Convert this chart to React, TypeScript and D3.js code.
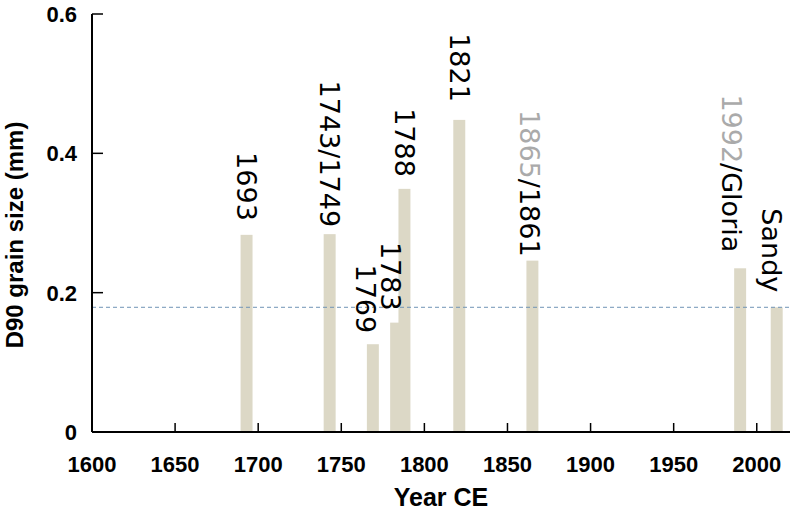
import * as React from 'react';
import * as d3 from 'd3';

// bar positions (year CE) and D90 values (mm)
const years = [1693, 1743, 1769, 1783, 1788, 1821, 1865, 1990, 2012];
const values = [0.283, 0.284, 0.126, 0.157, 0.349, 0.448, 0.246, 0.235, 0.179];
// label parts: [grey part, black part]
const labels = [
  ['', '1693'],
  ['', '1743/1749'],
  ['', '1769'],
  ['', '1783'],
  ['', '1788'],
  ['', '1821'],
  ['1865', '/1861'],
  ['1992', '/Gloria'],
  ['', 'Sandy'],
];
// small shift of each label relative to its bar (px): [dx, gap above bar]
const labelShift = [
  [0, 14],
  [0, 7],
  [-7, 11],
  [-5, 12],
  [0, 12],
  [0, 18],
  [-3, 4],
  [-8, 16],
  [-5, 15],
];
const threshold = 0.179;
const xTicks = [1600, 1650, 1700, 1750, 1800, 1850, 1900, 1950, 2000];
const yTicks = [0, 0.2, 0.4, 0.6];

const W = 793;
const H = 520;
const margin = { top: 14, right: 3, bottom: 88, left: 92 };

const App = () => {
  const x = d3.scaleLinear().domain([1600, 2020]).range([margin.left, W - margin.right]);
  const y = d3.scaleLinear().domain([0, 0.6]).range([H - margin.bottom, margin.top]);
  const barHalf = 3.6;
  const axisFont = '"Liberation Sans", Arial, sans-serif';

  return (
    <svg
      width={W}
      height={H}
      style={{ position: 'absolute', left: 0, top: 0, background: '#fff' }}
    >
      {/* bars */}
      {years.map((yr, i) => (
        <rect
          key={'b' + i}
          x={x(yr - barHalf)}
          y={y(values[i])}
          width={x(yr + barHalf) - x(yr - barHalf)}
          height={y(0) - y(values[i])}
          fill="#dcd8c6"
        />
      ))}

      {/* threshold line */}
      <line
        x1={x(1600)}
        x2={x(2020)}
        y1={y(threshold)}
        y2={y(threshold)}
        stroke="#6f93b6"
        strokeWidth={1}
        strokeDasharray="4,3"
      />

      {/* labels above bars, rotated clockwise */}
      {years.map((yr, i) => {
        const lx = x(yr) + labelShift[i][0];
        const ly = y(values[i]) - labelShift[i][1];
        return (
          <text
            key={'l' + i}
            transform={`translate(${lx},${ly}) rotate(90)`}
            textAnchor="end"
            dy="0.36em"
            fontFamily='"DejaVu Sans", sans-serif'
            fontSize={27}
          >
            {labels[i][0] && <tspan fill="#aaaaaa">{labels[i][0]}</tspan>}
            <tspan fill="#000">{labels[i][1]}</tspan>
          </text>
        );
      })}

      {/* y axis */}
      <line x1={x(1600)} x2={x(1600)} y1={y(0)} y2={y(0.6)} stroke="#000" strokeWidth={2} />
      {yTicks.map(t => (
        <g key={'yt' + t}>
          <line x1={x(1600)} x2={x(1600) + 11} y1={y(t)} y2={y(t)} stroke="#000" strokeWidth={1.5} />
          <text
            x={x(1600) - 15}
            y={y(t)}
            dy="0.36em"
            textAnchor="end"
            fontFamily={axisFont}
            fontWeight="bold"
            fontSize={22}
          >
            {t === 0 ? '0' : d3.format('.1f')(t)}
          </text>
        </g>
      ))}

      {/* x axis */}
      <line x1={x(1600)} x2={x(2020)} y1={y(0)} y2={y(0)} stroke="#000" strokeWidth={2} />
      {xTicks.map(t => (
        <g key={'xt' + t}>
          <line x1={x(t)} x2={x(t)} y1={y(0)} y2={y(0) - 9} stroke="#000" strokeWidth={1.5} />
          <text
            x={x(t)}
            y={y(0) + 40}
            textAnchor="middle"
            fontFamily={axisFont}
            fontWeight="bold"
            fontSize={22}
          >
            {t}
          </text>
        </g>
      ))}

      {/* axis titles */}
      <text
        x={(x(1600) + x(2020)) / 2}
        y={506}
        textAnchor="middle"
        fontFamily={axisFont}
        fontWeight="bold"
        fontSize={25}
      >
        Year CE
      </text>
      <text
        transform={`translate(23,${(y(0) + y(0.6)) / 2 + 12}) rotate(-90)`}
        textAnchor="middle"
        fontFamily={axisFont}
        fontWeight="bold"
        fontSize={24}
      >
        D90 grain size (mm)
      </text>
    </svg>
  );
};

export default App;
